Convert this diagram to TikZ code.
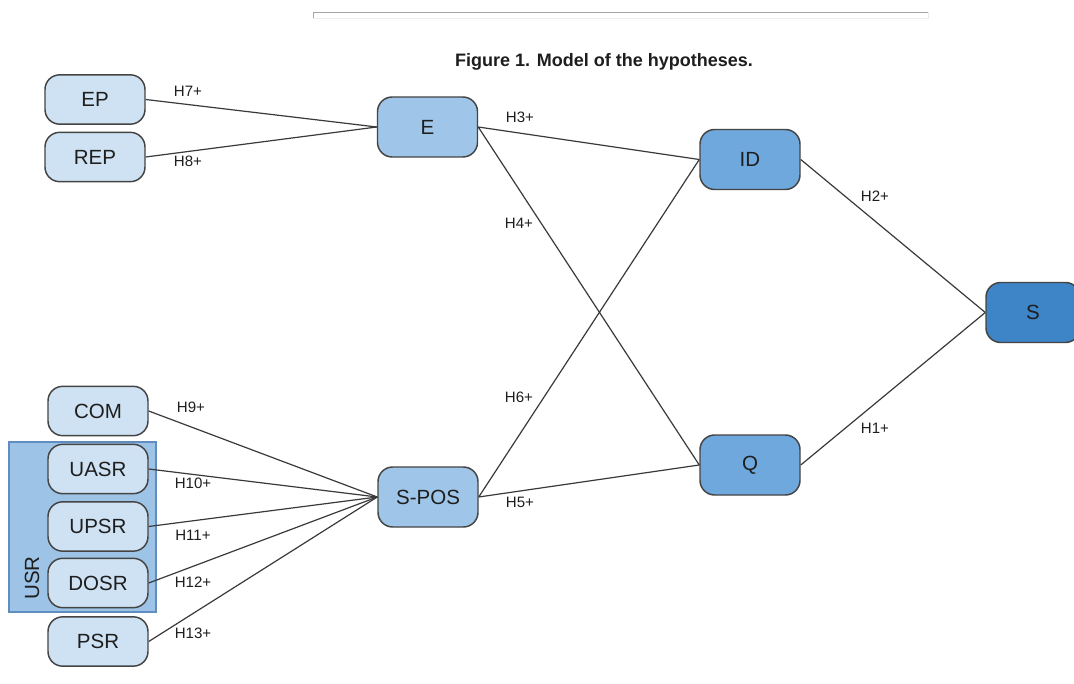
\documentclass[tikz,border=0pt]{standalone}
\usepackage{fontspec}
\setmainfont{Liberation Sans}
\definecolor{lightbox}{HTML}{CFE2F3}
\definecolor{midbox}{HTML}{9FC5E8}
\definecolor{idbox}{HTML}{6FA8DC}
\definecolor{sbox}{HTML}{3D85C6}
\definecolor{usrfill}{HTML}{9DC3E6}
\definecolor{usrdraw}{HTML}{5F8DBF}
\definecolor{boxline}{HTML}{444444}
\definecolor{conn}{HTML}{3A3A3A}
\definecolor{txt}{HTML}{1E1E1E}
\tikzset{
  basebox/.style={draw=boxline, line width=1.1pt, rounded corners=11pt,
    minimum width=75pt, inner sep=0pt, text=txt, font=\fontsize{15.4}{18}\selectfont},
  smallbox/.style={basebox, fill=lightbox, minimum height=37pt},
  bigbox/.style={basebox, minimum height=45pt},
  hyp/.style={font=\fontsize{11.3}{13}\selectfont, text=txt, inner sep=0pt},
  link/.style={draw=conn, line width=0.9pt},
}
\begin{document}
\begin{tikzpicture}[x=0.75pt, y=-0.75pt]
\clip (0,0) rectangle (1074,684);
\fill[white] (0,0) rectangle (1074,684);
% top rule
\draw[line width=0.75pt, gray!70] (313,19) -- (313,12.5) -- (928,12.5);
\draw[line width=0.75pt, gray!15] (313,19) -- (928,19) -- (928,12.5);
% title
\node[font=\bfseries\fontsize{13.5}{16}\selectfont, text=txt, inner sep=0pt] (title) at (604,62) {Figure 1. Model of the hypotheses.};
% USR group
\draw[fill=usrfill, draw=usrdraw, line width=0.9pt] (9,442) rectangle (156,612);
\node[rotate=90, text=txt, font=\fontsize{15.4}{18}\selectfont, inner sep=0pt] (usr) at (32,578) {USR};
% left boxes
\node[smallbox] (EP) at (95,99.5) {EP};
\node[smallbox] (REP) at (95,157) {REP};
\node[smallbox] (COM) at (98,411) {COM};
\node[smallbox] (UASR) at (98,469) {UASR};
\node[smallbox] (UPSR) at (98,526.5) {UPSR};
\node[smallbox] (DOSR) at (98,583) {DOSR};
\node[smallbox] (PSR) at (98,641.5) {PSR};
% middle
\node[bigbox, fill=midbox] (E) at (427.5,127) {E};
\node[bigbox, fill=midbox] (SPOS) at (428,497) {S-POS};
\node[bigbox, fill=idbox] (ID) at (750,159.5) {ID};
\node[bigbox, fill=idbox] (Q) at (750,465) {Q};
\node[bigbox, fill=sbox, minimum width=70.5pt] (S) at (1033,312.5) {S};
% connectors
\draw[link] (EP.east) -- (E.west);
\draw[link] (REP.east) -- (E.west);
\draw[link] (E.east) -- (ID.west);
\draw[link] (E.east) -- (Q.west);
\draw[link] (SPOS.east) -- (ID.west);
\draw[link] (SPOS.east) -- (Q.west);
\draw[link] (ID.east) -- (S.west);
\draw[link] (Q.east) -- (S.west);
\draw[link] (COM.east) -- (SPOS.west);
\draw[link] (UASR.east) -- (SPOS.west);
\draw[link] (UPSR.east) -- (SPOS.west);
\draw[link] (DOSR.east) -- (SPOS.west);
\draw[link] (PSR.east) -- (SPOS.west);
% labels
\node[hyp] (h7) at (188,91) {H7+};
\node[hyp] (h8) at (188,161) {H8+};
\node[hyp] (h3) at (520,117) {H3+};
\node[hyp] (h4) at (519,223) {H4+};
\node[hyp] (h6) at (519,397) {H6+};
\node[hyp] (h5) at (520,502) {H5+};
\node[hyp] (h2) at (875,196) {H2+};
\node[hyp] (h1) at (875,428) {H1+};
\node[hyp] (h9) at (191,407) {H9+};
\node[hyp] (h10) at (193,483) {H10+};
\node[hyp] (h11) at (193,535) {H11+};
\node[hyp] (h12) at (193,582) {H12+};
\node[hyp] (h13) at (193,633) {H13+};
\end{tikzpicture}
\end{document}
